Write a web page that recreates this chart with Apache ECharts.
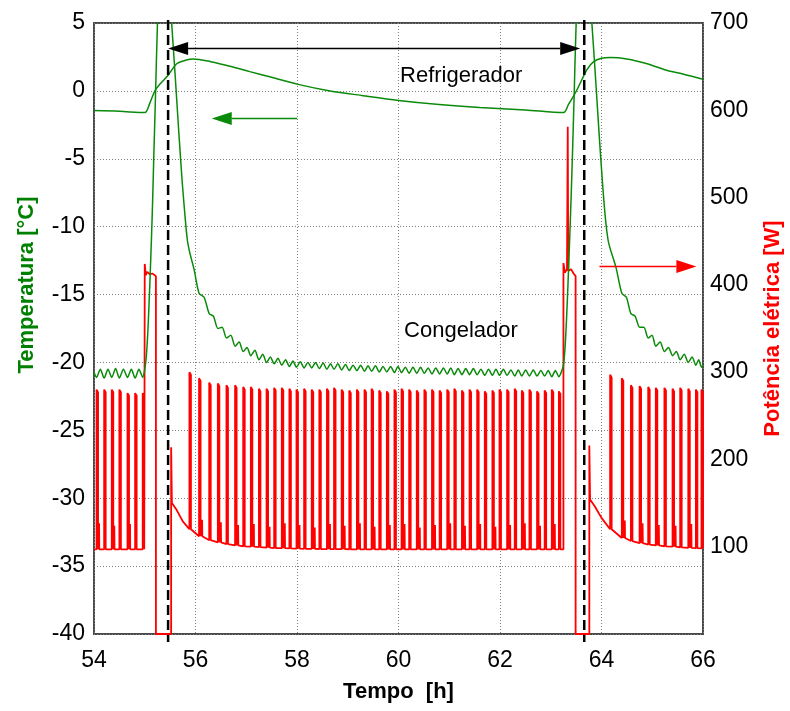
<!DOCTYPE html>
<html><head><meta charset="utf-8">
<script src="https://cdn.jsdelivr.net/npm/echarts@6.0.0/dist/echarts.min.js"></script>
<style>html,body{margin:0;padding:0;background:#fff}#c{width:790px;height:711px}</style>
</head><body><div id="c"></div>
<script>
// ---------- axes ----------
const xRange = [54, 66, 2];
const tempRange = [-40, 5, 5];
const powerRange = [0, 700, 100];

// ---------- refrigerator temperature (°C) ----------
const refT = [54.0, 54.5, 55.0, 55.1, 55.2, 55.3, 55.46, 55.63, 55.8, 55.96, 56.3, 56.7, 57.07, 57.5, 58.02, 58.65, 59.3, 60.0, 60.8, 61.6, 62.5, 63.25, 63.35, 63.44, 63.52, 63.61, 63.72, 63.84, 64.0, 64.17, 64.5, 64.9, 65.28, 65.6, 66.0];
const refV = [-1.45, -1.5, -1.6, -0.9, 0.0, 0.5, 1.15, 2.0, 2.25, 2.35, 2.15, 1.8, 1.42, 1.0, 0.48, 0.0, -0.35, -0.7, -1.0, -1.22, -1.4, -1.6, -1.0, -0.44, 0.1, 0.8, 1.6, 2.13, 2.4, 2.45, 2.35, 2.0, 1.52, 1.25, 0.86];

// ---------- compressor pulses (h, W) ----------
const pulseT1 = [54.05, 54.20, 54.35, 54.50, 54.66, 54.81, 54.96];
const pulseP1 = [280, 280, 280, 280, 276, 276, 276];
const pulseB1 = [97, 97, 97, 97, 97, 97, 97];

const pulseT2 = [55.88, 56.07, 56.27, 56.44, 56.61, 56.78, 56.94, 57.09, 57.25, 57.40,
                 57.55, 57.70, 57.85, 57.99, 58.14, 58.29, 58.44, 58.59, 58.73, 58.88,
                 59.03, 59.18, 59.33, 59.47, 59.62, 59.77, 59.92, 60.06, 60.21, 60.36,
                 60.51, 60.66, 60.81, 60.96, 61.10, 61.25, 61.40, 61.55, 61.70, 61.85,
                 61.99, 62.14, 62.29, 62.43, 62.58, 62.73, 62.88, 63.02, 63.16];
const pulseP2 = [300, 293, 288, 287, 285, 285, 283, 283, 281, 281,
                 282, 282, 281, 280, 281, 280, 280, 281, 282, 280,
                 279, 280, 280, 281, 279, 278, 280, 281, 280, 279,
                 280, 280, 279, 280, 281, 279, 280, 280, 278, 279,
                 280, 280, 281, 279, 280, 278, 279, 280, 278];
const pulseB2 = [120, 112, 107.5, 105, 103, 101.5, 100.5, 100, 99.5, 99,
                 98.5, 98.3, 98, 97.8, 97.6, 97.5, 97.4, 97.3, 97.2, 97.2,
                 97.1, 97, 97, 97, 97, 97, 97, 97, 97, 97,
                 97, 97, 97, 97, 97, 97, 97, 97, 97, 97,
                 97, 97, 97, 97, 97, 97, 97, 97, 97];

const pulseT3 = [64.17, 64.40, 64.58, 64.75, 64.92, 65.07, 65.24, 65.40, 65.55, 65.71, 65.86, 65.97];
const pulseP3 = [297, 293, 285, 284, 283, 282, 282, 281, 282, 281, 280, 280];
const pulseB3 = [120, 110, 106.5, 104, 102.5, 101.5, 100.5, 100, 99.3, 98.7, 98.3, 98];

// small secondary spikes after some compressor pulses (h, W)
const spikeT = [54.10, 54.40, 54.71, 56.13, 56.50, 56.84, 57.15, 57.46, 57.76, 58.05, 58.35, 58.65, 58.94, 59.24, 59.53, 59.83,
                60.12, 60.42, 60.72, 61.02, 61.31, 61.61, 61.91, 62.20, 62.49, 62.79, 63.08, 64.46, 64.81, 65.13, 65.46, 65.77];
const spikeW = [127, 124, 126, 131, 128, 125, 126, 123, 127, 125, 122, 126, 124, 127, 123, 125,
                126, 122, 125, 127, 124, 126, 123, 125, 127, 124, 126, 130, 127, 125, 124, 126];

// ---------- defrost power (h, W) ----------
const powerStartT = [54.0], powerStartW = [97];
const defrost1T = [55.00, 55.00, 55.02, 55.05, 55.10, 55.15, 55.22, 55.22, 55.52, 55.52, 55.535, 55.63, 55.75];
const defrost1W = [97, 424, 411, 415, 412, 413, 410, 0, 0, 214, 150, 142, 129];
const defrost2T = [63.25, 63.25, 63.28, 63.32, 63.33, 63.335, 63.345, 63.40, 63.45, 63.49, 63.49, 63.76, 63.76, 63.775, 63.87, 64.0];
const defrost2W = [97, 425, 414, 418, 418, 581, 416, 418, 413, 410, 0, 0, 216, 154, 146, 133];
const powerEndT = [66.0], powerEndW = [98];

// ---------- freezer temperature (°C) ----------
const frzStartT = [54.0], frzStartV = [-20.7];
const frzLow1 = [-21.1, -21.15, -21.1, -21.15, -21.1, -21.15, -21.1];
const frzHigh1 = [-20.5, -20.5, -20.45, -20.5, -20.5, -20.5];
const frzDef1T = [55.00, 55.03, 55.06, 55.09, 55.12, 55.15, 55.18, 55.21, 55.25, 55.30, 55.38, 55.45, 55.53, 55.60, 55.67, 55.74, 55.80, 55.84];
const frzDef1V = [-20.5, -19.6, -17.8, -15.2, -12.2, -8.8, -4.6, -0.6, 4.9, 9.0, 11.0, 9.5, 5.0, 1.1, -3.0, -6.8, -9.5, -11.0];
const frzLow2 = [-11.8, -14.9, -16.4, -17.5, -18.2, -18.8, -19.2, -19.5, -19.8, -20.0,
                 -20.1, -20.2, -20.3, -20.35, -20.4, -20.4, -20.45, -20.5, -20.5, -20.55,
                 -20.6, -20.6, -20.65, -20.65, -20.7, -20.7, -20.75, -20.75, -20.8, -20.8,
                 -20.8, -20.85, -20.85, -20.85, -20.9, -20.9, -20.9, -20.9, -20.95, -20.95,
                 -20.95, -20.95, -21.0, -21.0, -21.0, -21.0, -21.0, -21.05, -21.05];
const frzHigh2 = [-13.2, -15.2, -16.6, -17.4, -18.0, -18.5, -18.9, -19.1, -19.4, -19.6,
                  -19.7, -19.8, -19.9, -19.95, -20.0, -20.0, -20.05, -20.1, -20.1, -20.15,
                  -20.2, -20.2, -20.25, -20.25, -20.3, -20.3, -20.3, -20.35, -20.35, -20.35,
                  -20.4, -20.4, -20.4, -20.4, -20.45, -20.45, -20.45, -20.5, -20.5, -20.5,
                  -20.5, -20.55, -20.55, -20.55, -20.55, -20.6, -20.6, -20.6];
const frzDef2T = [63.22, 63.25, 63.28, 63.31, 63.34, 63.37, 63.40, 63.43, 63.46, 63.50, 63.56, 63.64, 63.72, 63.81, 63.88, 63.95, 64.02, 64.08, 64.13];
const frzDef2V = [-20.6, -20.2, -19.0, -16.9, -14.2, -11.2, -8.0, -4.4, -0.5, 4.9, 9.0, 11.0, 9.5, 5.0, 1.1, -3.0, -6.8, -9.5, -11.0];
const frzLow3 = [-11.6, -14.9, -16.4, -17.4, -18.2, -18.8, -19.2, -19.5, -19.8, -20.0, -20.2, -20.35];
const frzHigh3 = [-13.0, -15.2, -16.6, -17.4, -18.0, -18.5, -18.9, -19.2, -19.4, -19.6, -19.8];
const frzEndT = [66.0], frzEndV = [-20.2];

// ---------- annotations (data units) ----------
const defrostLines = [55.46, 63.66];
const spanArrow = { t1: 55.46, t2: 63.58, temp: 3.12 };
const greenArrow = { tFrom: 58.0, tTo: 56.32, temp: -2.03 };
const redArrow = { tFrom: 63.96, tTo: 65.87, power: 421 };
const labels = [
  { text: 'Refrigerador', t: 60.03, temp: 1.1 },
  { text: 'Congelador', t: 60.11, temp: -17.7 }
];
const leftTitle = { text: 'Temperatura [°C]', temp: -14.3 };

// ---------- build series ----------
const PULSE_W = 0.03;
function zip(ts, vs) { return ts.map((t, i) => [t, vs[i]]); }
function pulses(ts, ps, bs) {
  const out = [];
  ts.forEach((t, i) => {
    const b = bs[i];
    out.push([t, b], [t, ps[i]], [t + PULSE_W, ps[i] - 3], [t + PULSE_W, b]);
  });
  return out;
}
function oscillation(ts, lows, highs) {
  const out = [];
  ts.forEach((t, i) => {
    out.push([t, lows[i]]);
    if (i < highs.length) out.push([(t + ts[i + 1]) / 2, highs[i]]);
  });
  return out;
}
function withSpikes(data) {
  const out = [];
  let k = 0;
  for (let i = 0; i < data.length; i++) {
    while (k < spikeT.length && spikeT[k] < data[i][0] && i > 0) {
      const b = data[i - 1][1];
      out.push([spikeT[k], b], [spikeT[k], spikeW[k]], [spikeT[k] + 0.004, b]);
      k++;
    }
    out.push(data[i]);
  }
  return out;
}
const powerData = withSpikes([].concat(
  zip(powerStartT, powerStartW),
  pulses(pulseT1, pulseP1, pulseB1),
  zip(defrost1T, defrost1W),
  pulses(pulseT2, pulseP2, pulseB2),
  zip(defrost2T, defrost2W),
  pulses(pulseT3, pulseP3, pulseB3),
  zip(powerEndT, powerEndW)
));
const freezerData = [].concat(
  zip(frzStartT, frzStartV),
  oscillation(pulseT1, frzLow1, frzHigh1),
  zip(frzDef1T, frzDef1V),
  oscillation(pulseT2, frzLow2, frzHigh2),
  zip(frzDef2T, frzDef2V),
  oscillation(pulseT3, frzLow3, frzHigh3),
  zip(frzEndT, frzEndV)
);
const refData = zip(refT, refV);

const FONT = 'Liberation Sans, Arial, Helvetica, sans-serif';
const GREEN = '#0a8a0a', RED = '#ff0000';
const gridLine = { show: true, lineStyle: { color: '#808080', type: [1, 2], width: 1 } };

const chart = echarts.init(document.getElementById('c'), null, { renderer: 'canvas' });
chart.setOption({
  animation: false,
  backgroundColor: '#ffffff',
  grid: { left: 94, top: 23, width: 609, height: 611, show: true, borderColor: '#4a4a4a', borderWidth: 2,
          backgroundColor: 'transparent', containLabel: false, outerBoundsMode: 'none' },
  xAxis: {
    type: 'value', min: xRange[0], max: xRange[1], interval: xRange[2],
    name: 'Tempo  [h]', nameLocation: 'middle', nameGap: 47,
    nameTextStyle: { fontSize: 22, fontWeight: 'bold', color: '#000', fontFamily: FONT },
    axisLine: { show: false }, axisTick: { show: false },
    axisLabel: { fontSize: 23, color: '#000', margin: 15, fontFamily: FONT },
    splitLine: gridLine
  },
  yAxis: [{
    type: 'value', min: tempRange[0], max: tempRange[1], interval: tempRange[2],
    axisLine: { show: false }, axisTick: { show: false },
    axisLabel: { fontSize: 23, color: '#000', margin: 9, fontFamily: FONT },
    splitLine: gridLine
  }, {
    type: 'value', min: powerRange[0], max: powerRange[1], interval: powerRange[2], position: 'right',
    name: 'Potência elétrica [W]', nameLocation: 'middle', nameGap: 59, nameRotate: 90,
    nameTextStyle: { fontSize: 22, fontWeight: 'bold', color: '#ff0000', fontFamily: FONT },
    axisLine: { show: false }, axisTick: { show: false },
    axisLabel: { fontSize: 23, color: '#000', margin: 7, fontFamily: FONT, formatter: v => (v === 0 ? '' : String(v)) },
    splitLine: { show: false }
  }],
  series: [
    { name: 'Potência', type: 'line', yAxisIndex: 1, data: powerData, showSymbol: false, symbol: 'none', silent: true,
      lineStyle: { color: RED, width: 1.8 }, z: 2 },
    { name: 'Congelador', type: 'line', yAxisIndex: 0, data: freezerData, showSymbol: false, symbol: 'none', silent: true,
      smooth: 0.25, lineStyle: { color: GREEN, width: 1.5 }, z: 3 },
    { name: 'Refrigerador', type: 'line', yAxisIndex: 0, data: refData, showSymbol: false, symbol: 'none', silent: true,
      smooth: 0.3, lineStyle: { color: GREEN, width: 1.5 }, z: 3 }
  ]
});

// ---------- annotations via axis conversion ----------
const px = t => chart.convertToPixel({ xAxisIndex: 0 }, t);
const pyT = v => chart.convertToPixel({ yAxisIndex: 0 }, v);
const pyW = v => chart.convertToPixel({ yAxisIndex: 1 }, v);
const topY = pyT(tempRange[1]), botY = pyT(tempRange[0]);
const leftX = px(xRange[0]);
const els = [];
defrostLines.forEach(t => {
  const x = px(t);
  els.push({ type: 'line', z: 100, shape: { x1: x, y1: topY - 3, x2: x, y2: botY + 8 },
    style: { stroke: '#000', lineWidth: 2.5, lineDash: [10, 5] } });
});
function arrow(x1, x2, y, color, both) {
  const dir = x2 > x1 ? 1 : -1, L = 20, H = 6.5;
  els.push({ type: 'line', z: 100, shape: { x1: both ? x1 + L * dir : x1, y1: y, x2: x2 - L * dir, y2: y },
    style: { stroke: color, lineWidth: 1.5 } });
  els.push({ type: 'polygon', z: 100, shape: { points: [[x2, y], [x2 - L * dir, y - H], [x2 - L * dir, y + H]] }, style: { fill: color } });
  if (both) els.push({ type: 'polygon', z: 100, shape: { points: [[x1, y], [x1 + L * dir, y - H], [x1 + L * dir, y + H]] }, style: { fill: color } });
}
arrow(px(spanArrow.t1), px(spanArrow.t2), pyT(spanArrow.temp), '#000', true);
arrow(px(greenArrow.tFrom), px(greenArrow.tTo), pyT(greenArrow.temp), GREEN, false);
arrow(px(redArrow.tFrom), px(redArrow.tTo), pyW(redArrow.power), RED, false);
labels.forEach(l => {
  els.push({ type: 'text', z: 100, x: px(l.t), y: pyT(l.temp),
    style: { text: l.text, fill: '#000', font: '22px ' + FONT, align: 'left', verticalAlign: 'middle' } });
});
// left axis title (rotated, reading bottom to top)
els.push({ type: 'text', z: 100, x: leftX - 67, y: pyT(leftTitle.temp), rotation: Math.PI / 2,
  style: { text: leftTitle.text, fill: '#008000', font: 'bold 22px ' + FONT, align: 'center', verticalAlign: 'middle' } });
chart.setOption({ graphic: { elements: els } });
</script>
</body></html>
